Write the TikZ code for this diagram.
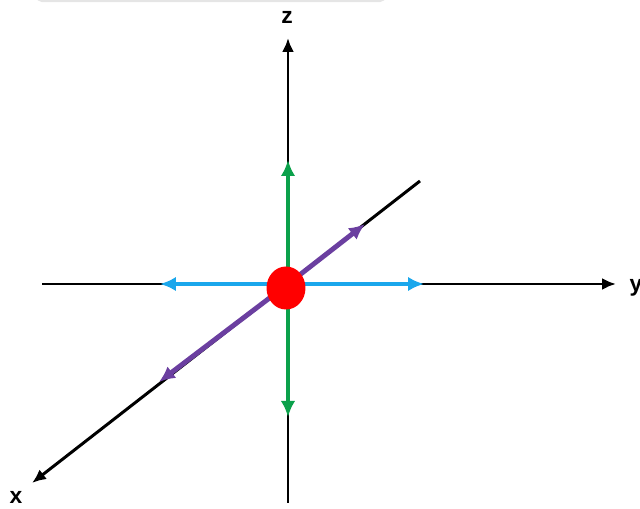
\documentclass[tikz,border=0pt]{standalone}
\usepackage{fontspec}
\setsansfont{Liberation Sans}
\usetikzlibrary{arrows.meta,shapes.geometric}
\definecolor{VecGreen}{HTML}{0BA14B}
\definecolor{VecCyan}{HTML}{1AA7EC}
\definecolor{VecPurple}{HTML}{6B3FA0}
\definecolor{DotRed}{HTML}{FF0000}
\tikzset{
  axis/.style={line width=1.7pt, draw=black, -{Latex[length=2.8mm,width=2.4mm]}},
  vec/.style={line width=2.8pt, draw=#1, -{Latex[length=3.2mm,width=2.9mm]}},
  axlabel/.style={font=\sffamily\bfseries\fontsize{13}{15}\selectfont, inner sep=0pt},
  dot/.style={ellipse, fill=DotRed, draw=none, minimum width=0.78cm, minimum height=0.86cm, inner sep=0pt},
}
\begin{document}
\begin{tikzpicture}[x=0.02cm, y=-0.02cm]
\useasboundingbox (0,0) rectangle (640,509);
% ---------- faint frame edge at the top
\draw[gray!20, line width=1.2pt, rounded corners=1mm] (37,-4) -- (37,1) -- (385,1) -- (385,-4);
% ---------- axis end points
\coordinate (zt) at (288,38);
\coordinate (zb) at (288,503);
\coordinate (yl) at (42,284);
\coordinate (yr) at (616,284);
\coordinate (xt) at (420,181);
\coordinate (xb) at (32,483);
\coordinate (gu) at (288,160);
\coordinate (gd) at (288,417);
\coordinate (cl) at (160,284);
\coordinate (cr) at (424,284);
\coordinate (pu) at (365,224);
\coordinate (pd) at (159,382);
\coordinate (O) at (288,284);
% ---------- black axes
\draw[axis] (zb) -- (zt);
\draw[axis] (yl) -- (yr);
\draw[axis] (xt) -- (xb);
% ---------- coloured vectors
\draw[vec=VecGreen] (O) -- (gu);
\draw[vec=VecGreen] (O) -- (gd);
\draw[vec=VecCyan] (O) -- (cl);
\draw[vec=VecCyan] (O) -- (cr);
\draw[vec=VecPurple] (O) -- (pu);
\draw[vec=VecPurple] (O) -- (pd);
\node[dot] (ball) at (286,288) {};
% ---------- labels
\node[axlabel] (zlab) at (287,17) {z};
\node[axlabel] (ylab) at (636,288) {y};
\node[axlabel] (xlab) at (16,497) {x};
\end{tikzpicture}
\end{document}
